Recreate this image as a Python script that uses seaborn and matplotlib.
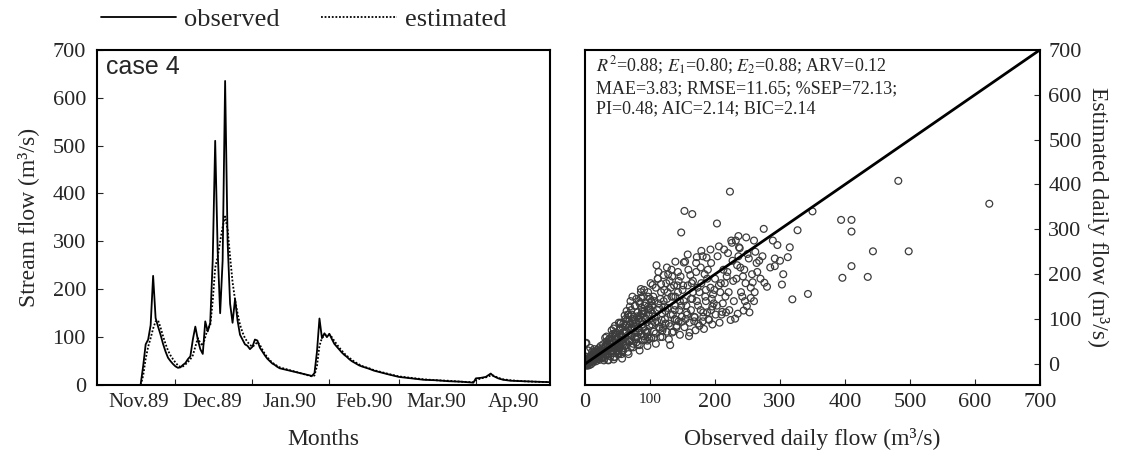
import matplotlib
matplotlib.use("Agg")
import matplotlib.pyplot as plt
import matplotlib.dates as mdates
from matplotlib.ticker import FixedLocator, FixedFormatter, NullFormatter
import numpy as np
import pandas as pd
import seaborn as sb

# ---- time series (days counted from 1 Nov 1989) ----
days = [16, 17, 18, 19, 20, 21, 22, 23, 24, 25, 26, 27, 28, 29, 30, 31, 32, 33, 34, 35,
        36, 37, 38, 39, 40, 41, 42, 43, 44, 45, 46, 47, 48, 49, 50, 51, 52, 53, 54, 55,
        56, 57, 58, 59, 60, 61, 62, 63, 64, 65, 66, 67, 68, 69, 70, 71, 72,
        85, 86, 87, 88, 89, 90, 91, 92, 93, 94, 95, 96, 97, 98, 99, 100, 101, 102, 103,
        104, 105, 108, 110, 113, 116, 120, 125, 130, 135, 140, 145, 150, 151, 153, 155,
        157, 158, 160, 162, 165, 170, 175, 181]
observed = [2, 40, 85, 95, 125, 228, 140, 122, 105, 86, 70, 57, 50, 44, 39, 36, 37, 42, 46, 54,
            60, 95, 122, 95, 75, 65, 133, 112, 130, 260, 510, 280, 150, 260, 635, 300, 170, 130, 180, 135,
            105, 95, 85, 82, 75, 80, 95, 93, 78, 70, 62, 55, 50, 45, 42, 38, 35,
            19, 25, 70, 139, 98, 108, 100, 107, 96, 86, 80, 74, 68, 63, 59, 54, 50, 47, 44,
            41, 39, 34, 30, 26, 22, 17, 14, 11, 10, 8, 7, 5, 14, 15, 17,
            24, 19, 14, 11, 9, 8, 7, 6]
estimated = [0, 20, 55, 80, 98, 118, 133, 135, 120, 102, 86, 72, 62, 54, 47, 41, 38, 39, 43, 48,
             54, 62, 80, 98, 88, 82, 100, 118, 124, 175, 245, 268, 300, 330, 352, 325, 268, 215, 178, 150,
             126, 110, 98, 90, 84, 80, 84, 90, 84, 74, 65, 58, 52, 47, 43, 40, 37,
             18, 20, 40, 82, 98, 104, 106, 105, 100, 92, 85, 78, 72, 66, 61, 57, 53, 49, 46,
             43, 40, 35, 31, 27, 23, 18, 15, 12, 10, 9, 7, 6, 10, 14, 16,
             20, 20, 15, 12, 10, 8, 7, 6]
month_labels = ["Nov.89", "Dec.89", "Jan.90", "Feb.90", "Mar.90", "Ap.90"]
label_dates = ["1989-11-16", "1989-12-16", "1990-01-16", "1990-02-15", "1990-03-16", "1990-04-16"]
tick_dates = ["1989-12-01", "1990-01-01", "1990-02-01", "1990-03-01", "1990-04-01"]

# ---- scatter (observed vs estimated daily flow) ----
scatter_obs = [
    0, 1, 1, 2, 2, 3, 3, 4, 4, 5, 5, 6, 6, 7, 7, 8, 8, 9, 9, 10, 10, 11, 11, 12, 12,
    13, 13, 14, 14, 15, 15, 16, 16, 17, 17, 18, 18, 19, 19, 20, 20, 21, 21, 22, 22, 23, 23, 24, 24, 25,
    2, 5, 8, 11, 14, 3, 6, 9, 1,
    26, 27, 28, 29, 30, 31, 32, 33, 34, 35, 36, 37, 38, 39, 40, 41, 42, 43, 44, 45, 46, 47, 48, 49, 50,
    51, 52, 53, 54, 55, 56, 57, 58, 59, 60,
    26, 29, 32, 35, 38, 41, 44, 47, 50, 53, 56, 59, 28, 34, 40, 46, 52, 58, 31, 37, 43, 49, 55,
    61, 62, 63, 64, 65, 66, 67, 68, 69, 70, 71, 72, 73, 74, 75, 76, 77, 78, 79, 80,
    81, 82, 83, 84, 85, 86, 87, 88, 89, 90, 91, 92, 93, 94, 95, 96, 97, 98, 99, 100,
    62, 66, 70, 74, 78, 82, 86, 90, 94, 98, 64, 68, 72, 76, 80, 84, 88, 92, 96, 86, 73,
    101, 103, 105, 107, 109, 111, 113, 115, 117, 119, 121, 123, 125, 127, 129, 131, 133, 135, 137, 139,
    141, 143, 145, 147, 149,
    102, 106, 110, 114, 118, 122, 126, 130, 134, 138, 142, 146, 150, 104, 112, 120, 128, 136, 144,
    148, 153, 165,
    152, 155, 158, 160, 163, 166, 168, 171, 174, 176, 179, 182, 185, 187, 190, 193, 196, 198, 200,
    154, 162, 170, 178, 186, 194, 157, 165, 173, 181, 189, 197, 203,
    203, 206, 210, 213, 216, 220, 222, 225, 228, 231, 234, 237, 240, 243, 246, 249, 252, 255, 258, 262,
    265, 268, 208, 218, 226, 236, 244, 232, 238,
    223, 275, 276, 289, 292, 292, 303, 312, 319, 327, 343, 350, 394, 396, 410, 410, 410, 435, 443, 482,
    498, 622,
    31, 33, 41, 44, 52, 54, 61, 66, 69, 77, 79, 86, 91, 97, 101, 104, 112, 113, 121, 126,
    133, 139, 152, 158, 172, 179, 193, 206,
    29, 36, 39, 46, 51, 56, 59, 66, 71, 74, 81, 84, 89, 96, 99, 106, 109, 116, 119, 126,
    131, 141, 149, 161, 169, 182, 188, 211,
    42, 48, 53, 58, 63, 68, 72, 77, 83, 88, 93, 97, 103, 108, 116, 124, 132, 138, 144, 156,
    164, 172, 184, 195, 215, 245, 255, 260,
    35, 38, 44, 46, 52, 57, 61, 64, 67, 71, 74, 79, 82, 84, 87, 91, 94, 96, 99, 102,
    104, 107, 109, 111, 114, 117, 119, 122, 124, 127, 129, 132, 134, 136, 139, 141, 143, 146, 148, 151,
    153, 156, 159, 161, 163, 166, 168, 171, 174, 176, 178, 181, 183, 186, 188, 191, 194, 196, 199, 201,
    204, 207, 209, 212, 214, 217, 219, 221, 224, 227, 229, 233, 235, 239, 242, 247, 250, 253, 257, 261,
    264, 270, 273, 280, 285, 296, 300, 305, 315, 260, 248, 236]
scatter_est = [
    -3, 0, 4, -2, 6, 1, 9, -1, 3, 8, 12, 2, 5, 10, 15, 4, 18, 7, 11, 6, 14, 20, 9, 3, 16,
    12, 24, 8, 19, 13, 28, 10, 22, 17, 6, 25, 14, 31, 20, 11, 26, 16, 35, 22, 9, 30, 18, 27, 40, 13,
    47, 30, 36, 28, 33, -4, -3, -1, 46,
    35, 18, 44, 25, 12, 38, 29, 50, 21, 42, 8, 33, 57, 27, 46, 36, 62, 24, 49, 15, 55, 40, 70, 31, 58,
    45, 22, 66, 38, 80, 51, 28, 60, 44, 72,
    22, 33, 41, 30, 38, 52, 34, 61, 40, 75, 63, 90, 14, 46, 28, 85, 35, 48, 20, 55, 67, 27, 92,
    58, 85, 42, 72, 99, 64, 110, 50, 88, 76, 120, 62, 95, 45, 105, 82, 130, 70, 92, 60,
    115, 98, 140, 75, 108, 66, 125, 88, 150, 80, 118, 55, 102, 135, 93, 72, 128, 110, 85, 145,
    100, 80, 140, 90, 55, 70, 160, 112, 70, 122, 118, 50, 78, 98, 106, 135, 95, 130, 60, 167, 150,
    120, 88, 150, 105, 170, 95, 135, 78, 160, 112, 140, 100, 180, 125, 90, 42, 150, 110, 175, 130,
    85, 160, 120, 195, 105,
    140, 72, 220, 125, 98, 165, 145, 185, 70, 120, 175, 140, 165, 112, 190, 80, 200, 150, 95,
    293, 341, 334,
    140, 100, 175, 62, 120, 160, 95, 205, 130, 85, 180, 115, 150, 237, 100, 170, 88, 135, 190,
    228, 198, 75, 215, 165, 120, 110, 145, 170, 95, 210, 155, 313,
    130, 175, 110, 210, 150, 247, 120, 275, 185, 101, 220, 260, 160, 195, 140, 129, 235, 147, 182, 250,
    205, 230, 160, 195, 270, 240, 119, 275, 258,
    384, 301, 181, 275, 235, 218, 177, 238, 144, 298, 156, 340, 321, 192, 321, 295, 218, 194, 251, 408,
    251, 357,
    58, 61, 75, 79, 92, 90, 108, 110, 128, 129, 145, 148, 165, 160, 180, 176, 190, 205, 198, 215,
    210, 228, 226, 244, 238, 252, 255, 262,
    8, 9, 17, 16, 23, 22, 31, 27, 38, 37, 42, 42, 53, 52, 56, 58, 68, 60, 74, 72,
    84, 82, 94, 92, 104, 105, 115, 116,
    30, 65, 48, 82, 50, 95, 110, 60, 102, 118, 75, 150, 130, 92, 145, 118, 170, 100, 185, 130,
    180, 140, 200, 145, 180, 210, 170, 140,
    20, 52, 10, 68, 30, 12, 40, 88, 22, 55, 100, 48, 80, 30, 112, 62, 100, 40, 125, 58,
    96, 140, 45, 120, 82, 178, 60, 128, 90, 160, 55, 110, 195, 72, 150, 98, 205, 65, 130, 175,
    82, 115, 210, 70, 145, 185, 105, 225, 90, 160, 120, 240, 78, 140, 190, 98, 225, 128, 165, 110,
    240, 92, 180, 135, 255, 115, 205, 160, 98, 230, 140, 190, 112, 215, 150, 180, 245, 115, 200, 160,
    225, 190, 240, 172, 215, 265, 230, 200, 260, 275, 282, 285]
one_to_one = [0, 700]
flow_ticks = [0, 100, 200, 300, 400, 500, 600, 700]

sb.set_style("ticks")
plt.rcParams["font.family"] = ["Liberation Serif", "DejaVu Serif"]
plt.rcParams["mathtext.fontset"] = "stix"

base = pd.Timestamp("1989-11-01")
dates = base + pd.to_timedelta(days, unit="D")
df = pd.DataFrame({
    "date": list(dates) * 2,
    "flow": observed + estimated,
    "series": ["observed"] * len(days) + ["estimated"] * len(days),
})

fig = plt.figure(figsize=(11.22, 4.53), dpi=100)
ax1 = fig.add_axes([0.0865, 0.150, 0.404, 0.740])
ax2 = fig.add_axes([0.5214, 0.150, 0.4055, 0.740])

num_fs = 16
month_fs = 15
label_fs = 17

# left: time series
sb.lineplot(data=df, x="date", y="flow", style="series", color="black",
            dashes={"observed": "", "estimated": (1, 1)}, linewidth=1.3, ax=ax1)
ax1.set_xlim(pd.Timestamp("1989-10-30 10:00"), pd.Timestamp("1990-05-01"))
ax1.set_ylim(0, 700)
ax1.set_yticks(flow_ticks)
ax1.xaxis.set_major_locator(FixedLocator(mdates.date2num(pd.to_datetime(tick_dates))))
ax1.xaxis.set_major_formatter(NullFormatter())
ax1.xaxis.set_minor_locator(FixedLocator(mdates.date2num(pd.to_datetime(label_dates))))
ax1.xaxis.set_minor_formatter(FixedFormatter(month_labels))
ax1.tick_params(axis="x", which="minor", length=0, labelsize=month_fs, pad=6)
ax1.tick_params(axis="x", which="major", direction="in", length=4)
ax1.tick_params(axis="y", direction="in", length=4, labelsize=num_fs, pad=8)
ax1.set_xlabel("Months", fontsize=label_fs, labelpad=12)
ax1.set_ylabel("Stream flow (m³/s)", fontsize=label_fs, labelpad=10)
ax1.text(0.02, 0.985, "case 4", transform=ax1.transAxes, ha="left", va="top",
         fontsize=18, family=["Liberation Sans", "DejaVu Sans"])
sb.move_legend(ax1, "center", bbox_to_anchor=(0.455, 1.09), ncol=2, frameon=False,
               title=None, fontsize=19, handlelength=2.85, handletextpad=0.3,
               columnspacing=1.6)

# right: scatter
sb.scatterplot(x=scatter_obs, y=scatter_est, marker="o", s=24, facecolors="none",
               edgecolor="#3c3c3c", linewidth=0.9, ax=ax2)
sb.lineplot(x=one_to_one, y=one_to_one, color="black", linewidth=2, ax=ax2)
ax2.set_xlim(0, 700)
ax2.set_ylim(-47, 700)
ax2.set_xticks(flow_ticks)
ax2.set_yticks(flow_ticks)
ax2.yaxis.tick_right()
ax2.yaxis.set_label_position("right")
ax2.tick_params(axis="x", direction="in", length=4, labelsize=num_fs, pad=6)
ax2.tick_params(axis="y", direction="in", length=4, labelsize=num_fs, pad=6)
for lab in ax2.get_xticklabels():
    if lab.get_text() == "100":
        lab.set_fontsize(11)
ax2.set_xlabel("Observed daily flow (m³/s)", fontsize=label_fs, labelpad=11)
ax2.set_ylabel("Estimated daily flow (m³/s)", fontsize=label_fs, rotation=270, labelpad=20)
ax2.text(0.024, 0.985,
         "$R^2$=0.88; $E_1$=0.80; $E_2$=0.88; ARV=0.12\n"
         "MAE=3.83; RMSE=11.65; %SEP=72.13;\n"
         "PI=0.48; AIC=2.14; BIC=2.14",
         transform=ax2.transAxes, ha="left", va="top", fontsize=13, linespacing=1.25)

for ax in (ax1, ax2):
    for sp in ax.spines.values():
        sp.set_visible(True)
        sp.set_linewidth(1.5)
        sp.set_color("black")

fig.savefig("out.png", dpi=100)
